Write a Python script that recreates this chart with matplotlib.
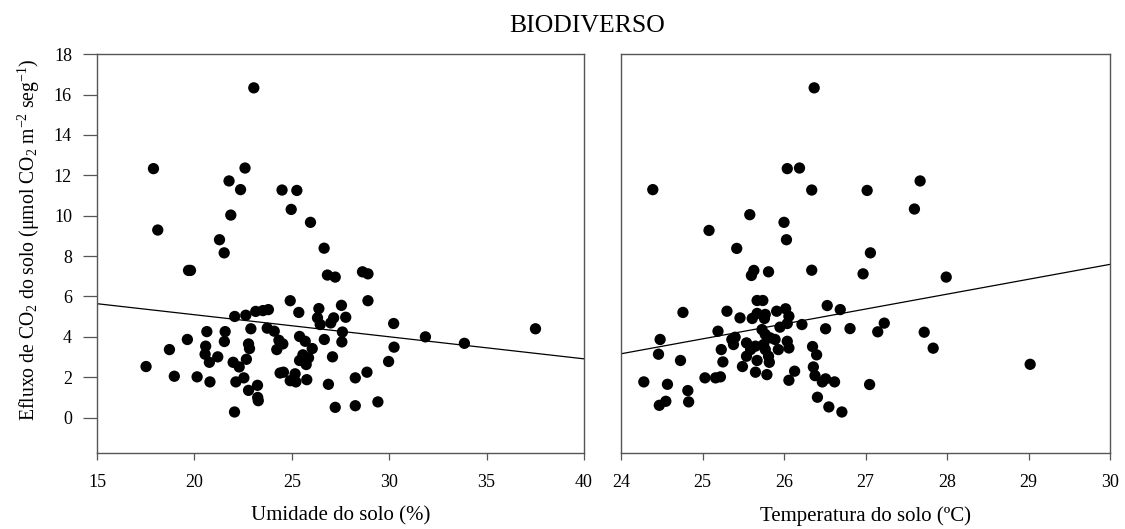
import numpy as np
import matplotlib
matplotlib.use('Agg')
import matplotlib.pyplot as plt

plt.rcParams['font.family'] = ['Liberation Serif', 'DejaVu Serif']
plt.rcParams['mathtext.fontset'] = 'custom'
plt.rcParams['mathtext.rm'] = 'Liberation Serif'
plt.rcParams['mathtext.it'] = 'Liberation Serif:italic'

# umidade do solo (%) x efluxo
umid_x = [23.05, 17.9, 22.6, 21.78, 22.37, 24.5, 25.26, 24.97, 21.87, 25.96,
          18.12, 21.29, 21.53, 26.66, 19.7, 19.8, 26.83, 27.23, 24.92, 25.36,
          22.07, 22.64, 23.15, 23.52, 23.8, 26.39, 26.32, 26.46, 27.15, 27.0,
          27.55, 27.6, 22.9, 23.74, 24.1, 20.64, 21.58, 19.64, 21.54, 18.72,
          20.58, 20.55, 20.77, 21.2, 22.78, 22.83, 22.67, 21.99, 22.3, 24.34,
          24.54, 24.23, 25.4, 25.69, 26.05, 25.57, 25.4, 25.86, 25.74, 26.67,
          27.09, 17.52, 18.97, 20.14, 20.8, 22.13, 22.54, 22.78, 23.24, 23.25,
          23.28, 22.06, 24.4, 24.57, 24.92, 25.17, 25.21, 25.77, 26.88, 27.23,
          28.63, 28.91, 28.91, 27.77, 27.57, 30.23, 31.86, 33.86, 37.51, 30.25,
          29.97, 28.26, 28.86, 28.26, 29.42]
umid_y = [16.33, 12.33, 12.36, 11.72, 11.29, 11.27, 11.25, 10.31, 10.03, 9.67,
          9.29, 8.81, 8.16, 8.39, 7.29, 7.29, 7.06, 6.96, 5.79, 5.21,
          5.01, 5.07, 5.26, 5.30, 5.35, 5.40, 4.94, 4.61, 4.94, 4.69,
          5.56, 4.24, 4.40, 4.43, 4.28, 4.26, 4.26, 3.87, 3.77, 3.37,
          3.54, 3.14, 2.74, 3.01, 3.65, 3.42, 2.89, 2.74, 2.51, 3.83,
          3.65, 3.37, 4.02, 3.78, 3.42, 3.11, 2.83, 2.96, 2.63, 3.87,
          3.01, 2.53, 2.05, 2.02, 1.77, 1.77, 1.97, 1.35, 1.60, 1.00,
          0.84, 0.28, 2.21, 2.25, 1.83, 2.17, 1.77, 1.88, 1.65, 0.51,
          7.22, 7.12, 5.79, 4.97, 3.75, 4.66, 4.00, 3.68, 4.40, 3.49,
          2.78, 1.97, 2.25, 0.59, 0.78]

# temperatura do solo (ºC) x efluxo
temp_x = [26.37, 26.04, 26.19, 24.39, 26.34, 27.02, 25.58, 25.08, 26.0, 26.03,
          25.42, 27.06, 27.67, 27.6, 26.97, 27.99, 27.23, 27.15, 27.72, 27.83,
          29.02, 27.05, 25.6, 25.63, 25.81, 26.34, 25.67, 25.74, 24.76, 25.3,
          25.46, 25.61, 25.67, 25.76, 25.77, 25.91, 26.02, 26.06, 26.04, 25.95,
          26.22, 26.53, 26.69, 26.51, 26.81, 24.48, 24.46, 24.73, 25.19, 25.23,
          25.25, 25.4, 25.38, 25.36, 25.73, 25.77, 25.83, 25.89, 25.54, 25.59,
          25.65, 25.75, 25.77, 25.54, 25.67, 25.81, 25.82, 25.93, 26.04, 26.06,
          25.49, 25.65, 25.79, 26.13, 26.06, 26.35, 26.40, 26.36, 26.38, 26.47,
          26.51, 26.62, 26.41, 26.55, 26.71, 24.28, 24.57, 24.47, 24.55, 24.82,
          24.83, 25.03, 25.16, 25.22]
temp_y = [16.33, 12.33, 12.36, 11.29, 11.27, 11.25, 10.05, 9.27, 9.67, 8.81,
          8.38, 8.16, 11.72, 10.33, 7.12, 6.96, 4.68, 4.25, 4.23, 3.44,
          2.64, 1.64, 7.04, 7.29, 7.22, 7.30, 5.80, 5.80, 5.21, 5.27,
          4.94, 4.91, 5.16, 4.91, 5.11, 5.27, 5.39, 5.02, 4.66, 4.48,
          4.61, 5.55, 5.35, 4.40, 4.41, 3.87, 3.14, 2.83, 4.28, 3.37,
          2.76, 3.98, 3.62, 3.87, 4.36, 4.12, 3.95, 3.87, 3.70, 3.37,
          3.54, 3.62, 3.37, 3.04, 2.83, 3.04, 2.74, 3.37, 3.78, 3.45,
          2.53, 2.25, 2.13, 2.30, 1.85, 3.52, 3.11, 2.51, 2.08, 1.77,
          1.92, 1.77, 1.01, 0.53, 0.28, 1.77, 1.65, 0.61, 0.81, 1.34,
          0.78, 1.97, 1.97, 2.02]

# retas de regressao: [intercepto, inclinacao]
umid_fit = [7.28, -0.1092]
temp_fit = [-14.55, 0.738]

umid_ticks = [15, 20, 25, 30, 35, 40]
temp_ticks = [24, 25, 26, 27, 28, 29, 30]
y_ticks = [0, 2, 4, 6, 8, 10, 12, 14, 16, 18]

fig = plt.figure(figsize=(11.25, 5.29), dpi=100)
ax1 = fig.add_axes([0.0862, 0.1437, 0.4329, 0.754])
ax2 = fig.add_axes([0.552, 0.1437, 0.4347, 0.754])

spine_col = '#555555'


def painel(ax, x, y, fit, xlim, xticks, xlabel):
    ax.scatter(x, y, s=66, color='black', edgecolors='none', zorder=3)
    xs = np.array(xlim, dtype=float)
    ax.plot(xs, fit[0] + fit[1] * xs, color='black', lw=0.9, zorder=2)
    ax.set_xlim(xlim)
    ax.set_ylim(-1.75, 18)
    ax.set_xticks(xticks)
    for s in ax.spines.values():
        s.set_color(spine_col)
        s.set_linewidth(1.0)
    ax.tick_params(axis='x', direction='out', length=5, width=0.9,
                   color=spine_col, labelsize=13, pad=10, top=False)
    ax.set_xlabel(xlabel, fontsize=15, labelpad=11)


painel(ax1, umid_x, umid_y, umid_fit, (15, 40), umid_ticks,
       'Umidade do solo (%)')
ax1.set_yticks(y_ticks)
ax1.tick_params(axis='y', direction='out', length=10, width=0.9,
                color=spine_col, labelsize=13, pad=8, right=False)
ax1.set_ylabel(r'Efluxo de CO$_2$ do solo ($\mathrm{\mu}$mol CO$_2$ m$^{-2}$ seg$^{-1}$)',
               fontsize=14.2)
ax1.yaxis.set_label_coords(-0.112, 0.536)

painel(ax2, temp_x, temp_y, temp_fit, (24, 30), temp_ticks,
       'Temperatura do solo (ºC)')
ax2.set_yticks([])

fig.text(0.522, 0.940, 'BIODIVERSO', ha='center', va='baseline', fontsize=18.5)

fig.savefig('out.png', dpi=100)
